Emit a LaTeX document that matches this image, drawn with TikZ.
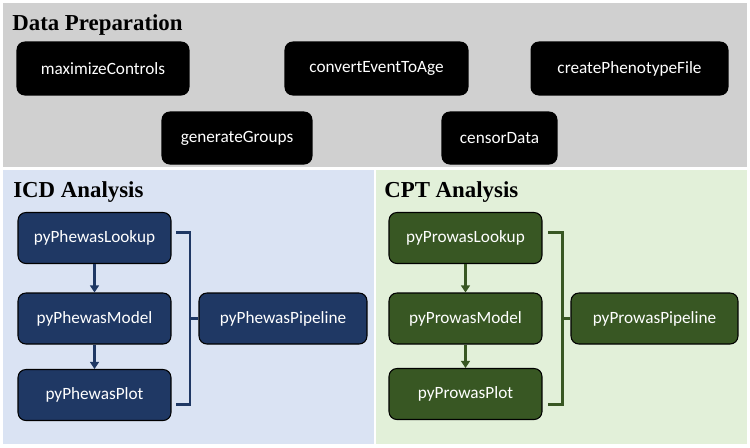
\documentclass[tikz,border=0pt]{standalone}
\usepackage{fontspec}
\newfontfamily\boxfont{Carlito}
\newfontfamily\titlefont{Liberation Serif}
\usetikzlibrary{arrows.meta}
\definecolor{prepgray}{HTML}{D0D0D0}
\definecolor{icdback}{HTML}{DAE3F3}
\definecolor{icdblue}{HTML}{1F3864}
\definecolor{cptback}{HTML}{E2F0D9}
\definecolor{cptgreen}{HTML}{385723}
\tikzset{
  basebox/.style={draw=black, line width=0.6pt, rounded corners=4.5pt, text=white,
    font=\boxfont\fontsize{9.8}{12}\selectfont, inner sep=0pt},
  prepbox/.style={basebox, fill=black, draw=black, minimum height=1.06cm},
  icdbox/.style={basebox, fill=icdblue, minimum width=3.06cm, minimum height=1.02cm},
  cptbox/.style={basebox, fill=cptgreen, minimum width=3.06cm, minimum height=1.02cm},
  paneltitle/.style={anchor=base west, inner sep=0pt, font=\titlefont\fontsize{13}{15}\selectfont\bfseries},
  icdline/.style={draw=icdblue, line width=1.7pt},
  cptline/.style={draw=cptgreen, line width=1.7pt},
  icdarrow/.style={draw=icdblue, line width=1.2pt, -{Triangle[width=5pt,length=4pt]}},
  cptarrow/.style={draw=cptgreen, line width=1.2pt, -{Triangle[width=5pt,length=4pt]}}
}
\begin{document}
\begin{tikzpicture}[x=0.02cm, y=-0.02cm]
  \useasboundingbox (0,0) rectangle (750,447);
  \fill[prepgray] (3,3) rectangle (747,167);
  \fill[icdback] (3,170) rectangle (374,444);
  \fill[cptback] (376,170) rectangle (747,444);

  \node [paneltitle] (preptitle) at (12,30) {Data Preparation};
  \node [prepbox, minimum width=3.44cm] (maxc) at (103,68.5) {maximizeControls};
  \node [prepbox, minimum width=3.66cm] (conv) at (376.5,68.5) {convertEventToAge};
  \node [prepbox, minimum width=3.94cm] (crea) at (629.5,68.5) {createPhenotypeFile};
  \node [prepbox, minimum width=3.00cm, minimum height=1.04cm] (gen) at (237,138) {generateGroups};
  \node [prepbox, minimum width=2.30cm, minimum height=1.04cm] (cens) at (499.5,138) {censorData};

  \node [paneltitle] (icdtitle) at (13,197) {ICD Analysis};
  \node [icdbox] (icdlook) at (94.5,238) {pyPhewasLookup};
  \node [icdbox] (icdmodel) at (94.5,318.5) {pyPhewasModel};
  \node [icdbox] (icdplot) at (94.5,395) {pyPhewasPlot};
  \node [icdbox, minimum width=3.36cm] (icdpipe) at (283,318.5) {pyPhewasPipeline};
  \draw [icdarrow] (icdlook) -- (icdmodel);
  \draw [icdarrow] (icdmodel) -- (icdplot);
  \coordinate (icdbrace) at (190,318.5);
  \draw [icdline] (176,232) -| (190,404) -- (176,404);
  \draw [icdline] (icdbrace) -- (icdpipe);

  \node [paneltitle] (cpttitle) at (384,197) {CPT Analysis};
  \node [cptbox] (cptlook) at (465.5,238) {pyProwasLookup};
  \node [cptbox] (cptmodel) at (465.5,318.5) {pyProwasModel};
  \node [cptbox] (cptplot) at (465.5,394) {pyProwasPlot};
  \node [cptbox, minimum width=3.34cm] (cptpipe) at (654.5,318.5) {pyProwasPipeline};
  \draw [cptarrow] (cptlook) -- (cptmodel);
  \draw [cptarrow] (cptmodel) -- (cptplot);
  \coordinate (cptbrace) at (562,318.5);
  \draw [cptline] (548,232) -| (562,404) -- (548,404);
  \draw [cptline] (cptbrace) -- (cptpipe);
\end{tikzpicture}
\end{document}
